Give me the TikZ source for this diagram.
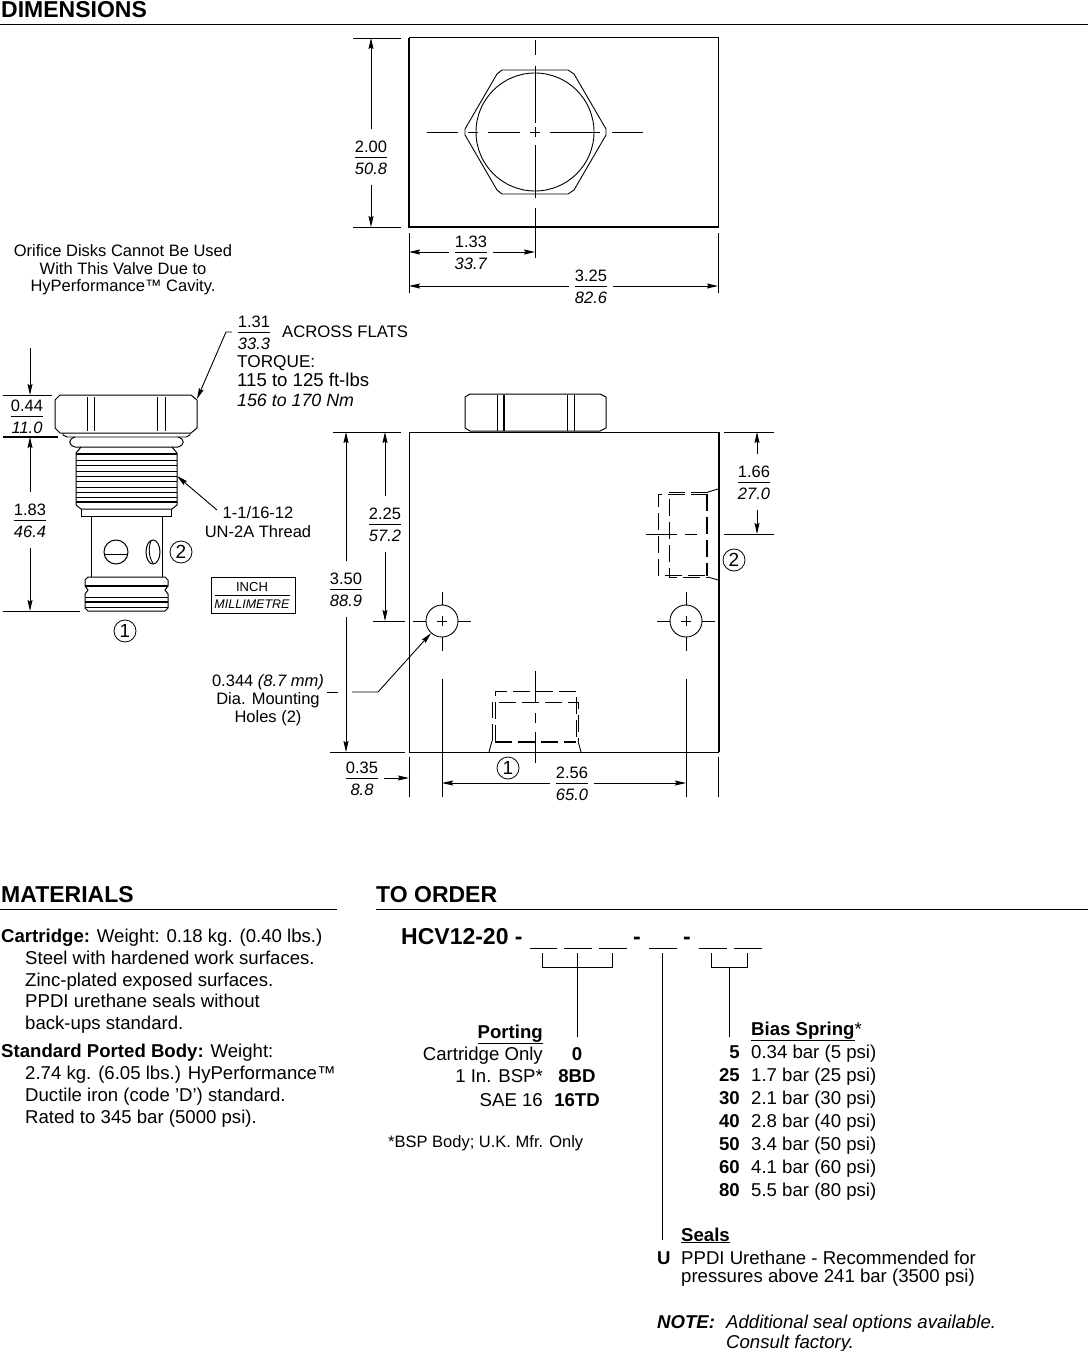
\documentclass[tikz,border=0pt]{standalone}
\usepackage{fontspec}
\setmainfont{Liberation Sans}
\usetikzlibrary{arrows.meta}

\newcommand{\dimfrac}[2]{{\renewcommand{\arraystretch}{1.12}\setlength{\arrayrulewidth}{0.9pt}\begin{tabular}{@{}c@{}}\raisebox{-2pt}{#1}\\\hline\raisebox{-2pt}{\textit{#2}}\end{tabular}}}

\tikzset{
  line/.style={line width=0.9pt},
  body/.style={line width=1pt},
  heavy/.style={line width=1.8pt},
  centre/.style={line width=0.9pt},
  hidden/.style={line width=0.9pt,dash pattern=on 17pt off 6pt},
  hiddenheavy/.style={line width=1.8pt,dash pattern=on 17pt off 6pt},
  dimarrow/.style={line width=0.9pt,-{Stealth[length=11pt,width=5pt,inset=1.5pt]}},
  dimlabel/.style={inner sep=3pt,outer sep=3pt,font=\fontsize{16.5}{19}\selectfont},
  note/.style={inner sep=0pt,font=\fontsize{16.5}{17.5}\selectfont},
  txt/.style={inner sep=0pt,text height=16pt,text depth=4pt,font=\fontsize{18.6}{21}\selectfont},
  txtbold/.style={txt,font=\fontsize{18.6}{21}\selectfont\bfseries},
  txtitalic/.style={txt,font=\fontsize{18.6}{21}\selectfont\itshape},
  title/.style={inner sep=0pt,text height=20pt,text depth=4pt,font=\fontsize{23}{25}\selectfont\bfseries},
  portmark/.style={circle,draw,line width=0.8pt,minimum size=22pt,inner sep=0pt,font=\fontsize{19}{19}\selectfont}
}

\begin{document}
\begin{tikzpicture}[x=1pt,y=-1pt]
\useasboundingbox (0,0) rectangle (1088,1351);

% Draw the section titles
\node [title,anchor=west] at (1,10) (dimtitle) {DIMENSIONS};
\node [title,anchor=west] at (1,894) (mattitle) {MATERIALS};
\node [title,anchor=west] at (376,894) (ordertitle) {TO ORDER};
\draw [line] (0,24) -- (1088,24);
\draw [line] (0,909) -- (337,909);
\draw [line] (376,909) -- (1088,909);

% Draw the top view of the body
\draw [body] (409,38) rectangle (718,227);
\draw [heavy] (409,38) -- (409,227) -- (718,227);
\draw [line] (502,70) -- (568,70) -- (574,74) -- (606,129) -- (606,135) -- (574,190) -- (568,194)
  -- (502,194) -- (497,190) -- (465,135) -- (465,129) -- (497,74) -- cycle;
\draw [line] (535,132) circle (59);
\foreach \a/\b in {40/55,66/123,127/137,145/198,208/227} \draw [centre] (535,\a) -- (535,\b);
\foreach \a/\b in {427/458,468/478,488/520,530/540,550/600,612/643} \draw [centre] (\a,132) -- (\b,132);

% Dimensions of the top view
\draw [line] (353,38) -- (401,38);
\draw [line] (353,227) -- (401,227);
\draw [line] (409,233) -- (409,293);
\draw [line] (535,227) -- (535,258);
\draw [line] (718,233) -- (718,293);
\coordinate (tv top) at (371,38);
\coordinate (tv bottom) at (371,227);
\coordinate (tv left) at (409,252);
\coordinate (tv mid) at (535,252);
\coordinate (tv wleft) at (409,286);
\coordinate (tv wright) at (718,286);
\node [dimlabel] at (371,157) (d200) {\dimfrac{2.00}{50.8}};
\node [dimlabel] at (471,252) (d133) {\dimfrac{1.33}{33.7}};
\node [dimlabel] at (591,286) (d325) {\dimfrac{3.25}{82.6}};
\draw [dimarrow] (d200.north) -- (tv top);
\draw [dimarrow] (d200.south) -- (tv bottom);
\draw [dimarrow] (d133.west) -- (tv left);
\draw [dimarrow] (d133.east) -- (tv mid);
\draw [dimarrow] (d325.west) -- (tv wleft);
\draw [dimarrow] (d325.east) -- (tv wright);

\node [note,align=center] at (123,270) (orifice) {Orifice Disks Cannot Be Used\\With This Valve Due to\\HyPerformance\texttrademark{} Cavity.};

% Draw the cartridge
\draw [body] (60,395) -- (191,395) -- (197,400) -- (197,428) -- (191,433) -- (60,433) -- (55,428) -- (55,400) -- cycle;
\foreach \a in {87,94,157,165} \draw [line] (\a,397) -- (\a,431);
\draw [line] (63,433) -- (63,435) -- (67,437) -- (186,437) -- (190,435) -- (190,433);
\draw [body] (75,437) .. controls (68,439) and (68,445) .. (75,447) -- (178,447) .. controls (185,445) and (185,439) .. (178,437);
\draw [body] (81,447) -- (76,453) -- (76,505) -- (81,509) -- (172,509) -- (177,505) -- (177,453) -- (172,447);
\draw [heavy] (76,454) -- (177,454);
\foreach \a in {460,465,471,476,481,487,492,497} \draw [line] (76,\a) -- (177,\a);
\draw [heavy] (76,502) -- (177,502);
\draw [body] (81,509) -- (81,516) -- (171,516) -- (171,509);
\draw [body] (91,516) -- (91,577);
\draw [body] (162,516) -- (162,577);
\draw [body] (88,577) -- (165,577) -- (168,580) -- (168,586) -- (165,590) -- (168,594) -- (168,608) -- (165,611)
  -- (88,611) -- (85,608) -- (85,594) -- (88,590) -- (85,586) -- (85,580) -- cycle;
\draw [heavy] (85,586) -- (168,586);
\draw [line] (85,597) -- (168,597);
\draw [heavy] (85,602) -- (168,602);
\draw [line] (85,607) -- (168,607);
\draw [body] (116,552) circle (12);
\draw [line] (105,554) -- (128,554);
\draw [body] (153,552) ellipse (7 and 12);
\draw [line] (151,541) .. controls (148,548) and (149,558) .. (153,563);

% Dimensions of the cartridge
\draw [line] (3,395) -- (52,395);
\draw [heavy] (3,437) -- (58,437);
\draw [line] (3,611) -- (80,611);
\coordinate (cart above) at (30,348);
\coordinate (cart top) at (30,395);
\coordinate (cart flange) at (30,437);
\coordinate (cart bottom) at (30,611);
\node [dimlabel] at (27,416) (d044) {\dimfrac{0.44}{11.0}};
\node [dimlabel] at (30,520) (d183) {\dimfrac{1.83}{46.4}};
\draw [dimarrow] (cart above) -- (cart top);
\draw [dimarrow] (d183.north) -- (cart flange);
\draw [dimarrow] (d183.south) -- (cart bottom);
\node [portmark] at (181,552) (cart port2) {2};
\node [portmark] at (125,631) (cart port1) {1};

% Across flats and torque
\node [dimlabel] at (254,332) (d131) {\dimfrac{1.31}{33.3}};
\node [txt,font=\fontsize{16.7}{20}\selectfont,anchor=west] at (282,331) (flats) {ACROSS FLATS};
\node [txt,font=\fontsize{17.2}{20}\selectfont,anchor=west] at (237,361) (torque) {TORQUE:};
\node [txt,anchor=west] at (237,380) (ftlbs) {115 to 125 ft-lbs};
\node [txt,font=\fontsize{17.8}{20}\selectfont\itshape,anchor=west] at (237,400) (nm) {156 to 170 Nm};
\coordinate (flat tip) at (197,399);
\draw [dimarrow] (d131.west) -- (226,332) -- (flat tip);

% Thread callout
\node [note,font=\fontsize{16.5}{19}\selectfont,align=center] at (258,522) (thread) {1-1/16-12\\UN-2A Thread};
\coordinate (thread tip) at (177,476);
\draw [dimarrow] (217,510) -- (thread tip);

% Units box
\node [draw,line width=0.8pt,minimum width=84pt,minimum height=36pt] at (253,595) (unitbox) {};
\node [inner sep=0pt,font=\fontsize{13}{15}\selectfont] at (252,587) (inch) {INCH};
\node [inner sep=0pt,font=\fontsize{12.5}{15}\selectfont\itshape] at (252,604) (milli) {MILLIMETRE};
\draw [line] (215,595) -- (290,595);

% Draw the front view of the body
\draw [body] (409,432) rectangle (718,752);
\draw [heavy] (719,432) -- (719,752);
\draw [body] (470,394) -- (600,394) -- (606,397) -- (606,428) -- (600,431) -- (470,431) -- (465,428) -- (465,397) -- cycle;
\foreach \a in {497,567,574} \draw [line] (\a,395) -- (\a,431);
\draw [heavy] (504,395) -- (504,431);

% Port 2 hidden lines
\draw [hidden] (708,494) -- (658,494) -- (658,575) -- (708,575);
\draw [hidden] (708,492) -- (669,492) -- (669,577) -- (708,577);
\draw [hiddenheavy] (707,494) -- (707,576);
\draw [line] (708,492) -- (718,489);
\draw [line] (708,577) -- (718,580);
\draw [centre] (646,534) -- (677,534);
\draw [centre] (685,534) -- (697,534);

% Port 1 hidden lines
\draw [hidden] (495,742) -- (495,691) -- (576,691) -- (576,742);
\draw [hidden] (492,741) -- (492,702) -- (578,702) -- (578,741);
\draw [hiddenheavy] (495,742) -- (576,742);
\draw [line] (492,741) -- (489,752);
\draw [line] (578,741) -- (581,752);
\foreach \a/\b in {671/702,713/723,732/763} \draw [centre] (535,\a) -- (535,\b);

% Draw the mounting holes
\foreach \cx/\name in {442/left,686/right}
{
  \node [draw,circle,line width=0.9pt,minimum size=32pt,inner sep=0pt] at (\cx,621) (hole \name) {};
  \draw [line] (\cx-5,621) -- (\cx+5,621);
  \draw [line] (\cx,616) -- (\cx,626);
  \draw [line] (\cx-29,621) -- (\cx-16,621);
  \draw [line] (\cx+16,621) -- (\cx+29,621);
  \draw [line] (\cx,592) -- (\cx,605);
  \draw [line] (\cx,637) -- (\cx,651);
  \draw [line] (\cx,679) -- (\cx,797);
}

% Dimensions of the front view
\draw [line] (333,432) -- (401,432);
\draw [line] (373,621) -- (405,621);
\draw [line] (330,752) -- (405,752);
\draw [line] (724,432) -- (774,432);
\draw [line] (724,534) -- (774,534);
\draw [line] (409,757) -- (409,797);
\draw [line] (718,757) -- (718,797);
\coordinate (fv top a) at (385,432);
\coordinate (fv hole) at (385,621);
\coordinate (fv top b) at (346,432);
\coordinate (fv bottom) at (346,752);
\coordinate (fv top c) at (757,432);
\coordinate (fv port) at (757,534);
\coordinate (fv edge) at (409,778);
\coordinate (fv hole a) at (442,783);
\coordinate (fv hole b) at (686,783);
\node [dimlabel] at (385,524) (d225) {\dimfrac{2.25}{57.2}};
\node [dimlabel] at (346,589) (d350) {\dimfrac{3.50}{88.9}};
\node [dimlabel] at (754,482) (d166) {\dimfrac{1.66}{27.0}};
\node [dimlabel] at (362,778) (d035) {\dimfrac{0.35}{8.8}};
\node [dimlabel] at (572,783) (d256) {\dimfrac{2.56}{65.0}};
\draw [dimarrow] (d225.north) -- (fv top a);
\draw [dimarrow] (d225.south) -- (fv hole);
\draw [dimarrow] (d350.north) -- (fv top b);
\draw [dimarrow] (d350.south) -- (fv bottom);
\draw [dimarrow] (d166.north -| fv top c) -- (fv top c);
\draw [dimarrow] (d166.south -| fv port) -- (fv port);
\draw [dimarrow] (d035.east) -- (fv edge);
\draw [dimarrow] (d256.west) -- (fv hole a);
\draw [dimarrow] (d256.east) -- (fv hole b);
\node [portmark] at (734,560) (fv port2) {2};
\node [portmark] at (508,768) (fv port1) {1};

% Mounting hole callout
\node [note,font=\fontsize{16.5}{18}\selectfont,align=center] at (268,700) (mount) {0.344 \textit{(8.7 mm)}\\Dia. Mounting\\Holes (2)};
\coordinate (mount elbow) at (378,692);
\draw [line] (327,692) -- (338,692);
\draw [dimarrow] (352,692) -- (mount elbow) -- (hole left);

% Materials text
\node [txt,anchor=west] at (1,936) (cart head) {\textbf{Cartridge:} Weight: 0.18 kg. (0.40 lbs.)};
\node [txt,anchor=west] at (25,958) (cart a) {Steel with hardened work surfaces.};
\node [txt,anchor=west] at (25,980) (cart b) {Zinc-plated exposed surfaces.};
\node [txt,anchor=west] at (25,1001) (cart c) {PPDI urethane seals without};
\node [txt,anchor=west] at (25,1023) (cart d) {back-ups standard.};
\node [txt,anchor=west] at (1,1051) (std head) {\textbf{Standard Ported Body:} Weight:};
\node [txt,anchor=west] at (25,1073) (std a) {2.74 kg. (6.05 lbs.) HyPerformance\texttrademark};
\node [txt,anchor=west] at (25,1095) (std b) {Ductile iron (code 'D') standard.};
\node [txt,anchor=west] at (25,1117) (std c) {Rated to 345 bar (5000 psi).};

% Draw the ordering code
\node [txt,font=\fontsize{23}{24}\selectfont\bfseries,anchor=west] at (401,938) (code) {HCV12-20 -};
\node [txt,font=\fontsize{23}{24}\selectfont\bfseries] at (637,938) (dash a) {-};
\node [txt,font=\fontsize{23}{24}\selectfont\bfseries] at (687,938) (dash b) {-};
\foreach \a/\b in {530/557,564/592,599/627,649/677,699/727,734/762} \draw [line] (\a,948) -- (\b,948);
\draw [line] (542,953) -- (542,967) -- (612,967) -- (612,953);
\draw [line] (711,953) -- (711,967) -- (747,967) -- (747,953);
\draw [line] (577,953) -- (577,1037);
\draw [line] (729,967) -- (729,1037);
\draw [line] (662,953) -- (662,1240);

% Porting options
\node [txtbold,anchor=east] at (543,1032) (porting) {\underline{Porting}};
\foreach \y/\lab/\val in {1054/Cartridge Only/0,1076/1 In. BSP*/8BD,1100/SAE 16/16TD}
{
  \node [txt,anchor=east] at (543,\y) (port \val) {\lab};
  \node [txtbold] at (577,\y) (val \val) {\val};
}
\node [note,anchor=west] at (388,1143) (bsp) {*BSP Body; U.K. Mfr. Only};

% Bias spring options
\node [txt,anchor=west] at (751,1029) (bias) {\textbf{\underline{Bias Spring}}*};
\foreach \y/\val/\lab in {1052/5/0.34 bar (5 psi),1075/25/1.7 bar (25 psi),1098/30/2.1 bar (30 psi),1121/40/2.8 bar (40 psi),1144/50/3.4 bar (50 psi),1167/60/4.1 bar (60 psi),1190/80/5.5 bar (80 psi)}
{
  \node [txtbold,anchor=east] at (740,\y) (spring \val) {\val};
  \node [txt,anchor=west] at (751,\y) (rate \val) {\lab};
}

% Seals and note
\node [txtbold,anchor=west] at (681,1235) (seals) {\underline{Seals}};
\node [txtbold,anchor=west] at (657,1258) (seal u) {U};
\node [txt,anchor=west] at (681,1258) (seal a) {PPDI Urethane - Recommended for};
\node [txt,anchor=west] at (681,1276) (seal b) {pressures above 241 bar (3500 psi)};
\node [txtbold,font=\fontsize{18.6}{21}\selectfont\bfseries\itshape,anchor=west] at (657,1322) (note) {NOTE:};
\node [txtitalic,anchor=west] at (726,1322) (note a) {Additional seal options available.};
\node [txtitalic,anchor=west] at (726,1342) (note b) {Consult factory.};

\end{tikzpicture}
\end{document}
